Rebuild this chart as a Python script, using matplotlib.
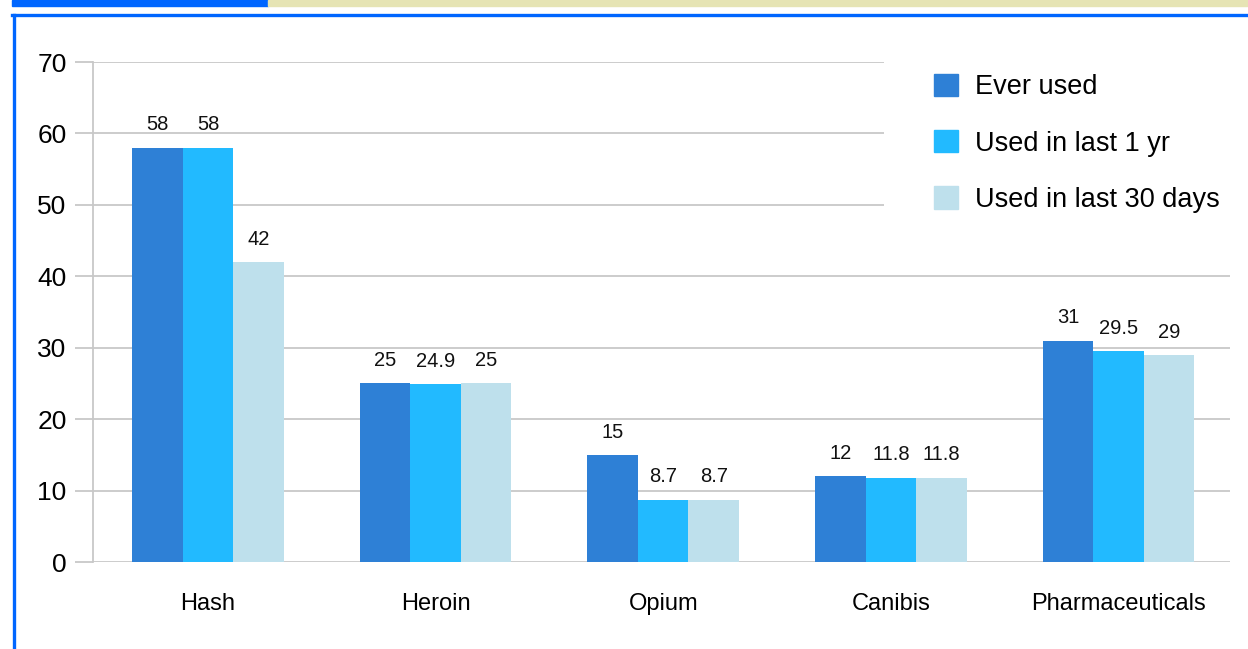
import matplotlib
matplotlib.use("Agg")
import matplotlib.pyplot as plt
import numpy as np
from matplotlib.patches import Rectangle
from matplotlib.lines import Line2D

plt.rcParams['font.family'] = ['Liberation Sans', 'DejaVu Sans']

categories = ["Hash", "Heroin", "Opium", "Canibis", "Pharmaceuticals"]
series_names = ["Ever used", "Used in last 1 yr", "Used in last 30 days"]
ever_used = [58, 25, 15, 12, 31]
last_1_yr = [58, 24.9, 8.7, 11.8, 29.5]
last_30_days = [42, 25, 8.7, 11.8, 29]
value_labels = [
    ["58", "25", "15", "12", "31"],
    ["58", "24.9", "8.7", "11.8", "29.5"],
    ["42", "25", "8.7", "11.8", "29"],
]
y_ticks = [0, 10, 20, 30, 40, 50, 60, 70]

colors = ["#2E80D6", "#22BAFF", "#BEE0EC"]
grid_color = "#C8C8C8"

W, H = 1248, 649
fig = plt.figure(figsize=(W / 100, H / 100), dpi=100)

# page chrome: header strip and frame lines
fig.patches.append(Rectangle((12 / W, 1 - 6 / H), (268 - 12) / W, 6 / H,
                             transform=fig.transFigure, color="#0066FF", zorder=0))
fig.patches.append(Rectangle((268 / W, 1 - 6 / H), (W - 268) / W, 6 / H,
                             transform=fig.transFigure, color="#E6E4B4", zorder=0))
fig.add_artist(Line2D([12 / W, 1.0], [1 - 15 / H, 1 - 15 / H], transform=fig.transFigure,
                      color="#0066FF", lw=2.4))
fig.add_artist(Line2D([13.5 / W, 13.5 / W], [0, 1 - 15 / H], transform=fig.transFigure,
                      color="#0066FF", lw=2.4))

ax = fig.add_axes([93 / W, 1 - 562 / H, (1230 - 93) / W, (562 - 62) / H])

x = np.arange(len(categories))
bw = 0.222
series = [ever_used, last_1_yr, last_30_days]
for i, (vals, name, col, labs) in enumerate(zip(series, series_names, colors, value_labels)):
    pos = x + (i - 1) * bw
    ax.bar(pos, vals, width=bw, color=col, label=name, zorder=3, linewidth=0)
    for px, v, t in zip(pos, vals, labs):
        ax.text(px, v + 3.2, t, ha="center", va="center", fontsize=14.5, color="#111111", zorder=4)

ax.set_xlim(-0.505, 4.49)
ax.set_ylim(0, 70)
ax.set_yticks(y_ticks)
ax.set_yticklabels([str(t) for t in y_ticks], fontsize=19)
ax.set_xticks(x)
ax.set_xticklabels(categories, fontsize=17)
ax.tick_params(axis="x", length=0, pad=22)
ax.tick_params(axis="y", length=13, width=1.3, color=grid_color, pad=6)
ax.yaxis.grid(True, color=grid_color, lw=1.3, zorder=0)
ax.set_axisbelow(True)
for s in ["top", "right", "bottom"]:
    ax.spines[s].set_visible(False)
ax.spines["left"].set_color(grid_color)
ax.spines["left"].set_linewidth(1.3)

# white panel behind the legend, hiding the upper gridlines on the right
ax.add_patch(Rectangle((884 / W, 1 - 235 / H), (1232 - 884) / W, (235 - 55) / H,
                       transform=fig.transFigure, facecolor="white",
                       edgecolor="none", zorder=1))

handles = [Rectangle((0, 0), 1, 1, color=c) for c in colors]
leg = fig.legend(handles, series_names, loc="upper left",
                 bbox_to_anchor=(934 / W, 1 - 74 / H), frameon=False,
                 fontsize=19.5, handlelength=0.88, handleheight=0.88,
                 handletextpad=0.63, labelspacing=1.1, borderaxespad=0,
                 borderpad=0)

fig.savefig("out.png", dpi=100)
